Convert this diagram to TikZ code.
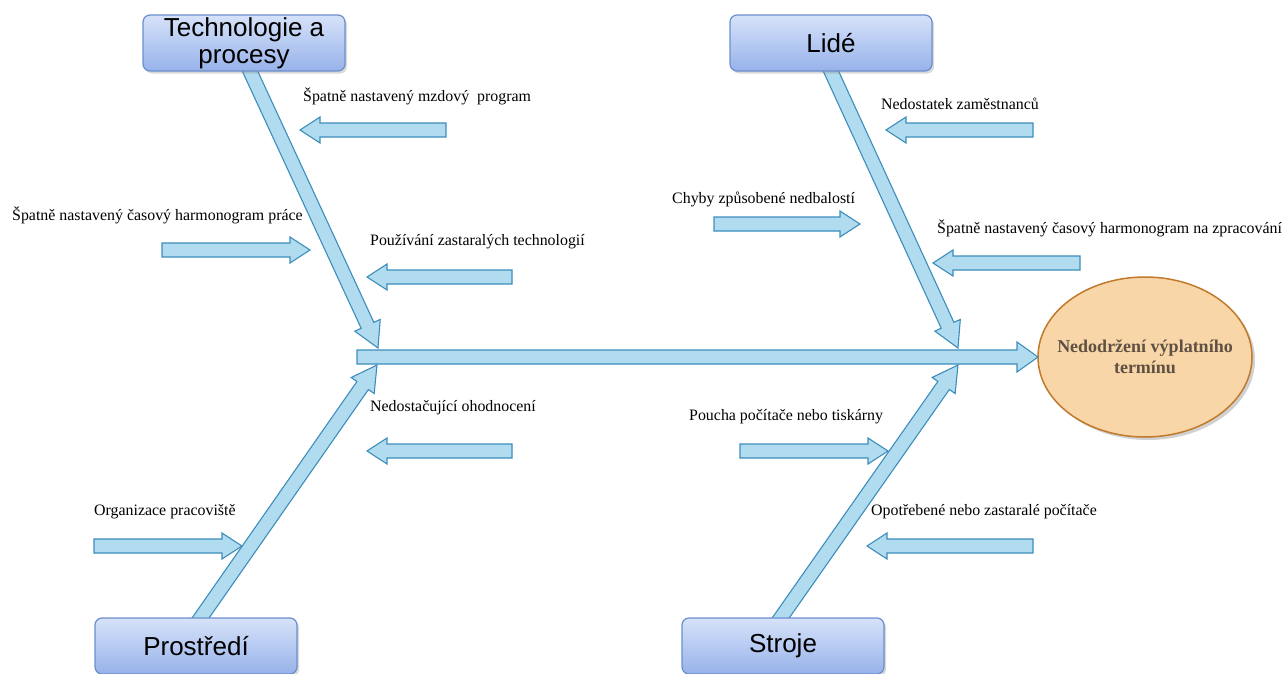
\documentclass[tikz,border=0pt]{standalone}
\usepackage{fontspec}
\setmainfont{Liberation Serif}
\newfontfamily\boxfont{Liberation Sans}
\usetikzlibrary{calc,shadows,shapes.geometric}

\definecolor{bonefill}{HTML}{B1DCF0}
\definecolor{boneline}{HTML}{3D8DBB}
\definecolor{boxtop}{HTML}{D6E2F9}
\definecolor{boxbot}{HTML}{97B2EA}
\definecolor{boxline}{HTML}{6B8FCC}
\definecolor{effectfill}{HTML}{F9D6A8}
\definecolor{effectline}{HTML}{C07A2C}
\definecolor{effecttext}{HTML}{5E5042}

\tikzset{
  bone/.style={fill=bonefill, draw=boneline, line width=1.1pt, line join=miter},
  category/.style={rounded corners=7pt, top color=boxtop, bottom color=boxbot,
    draw=boxline, line width=1.2pt, minimum width=202pt, minimum height=56pt,
    inner sep=0pt, align=center, font=\boxfont\fontsize{26}{27}\selectfont,
    drop shadow={shadow xshift=2pt, shadow yshift=-2.5pt, opacity=0.3, fill=black!50}},
  effect/.style={ellipse, fill=effectfill, draw=effectline, line width=1.5pt,
    minimum width=214pt, minimum height=160pt, inner sep=0pt,
    drop shadow={shadow xshift=3pt, shadow yshift=-3pt, opacity=0.3, fill=black!60}},
  effecttext/.style={inner sep=0pt, align=center, text=effecttext,
    font=\bfseries\fontsize{18}{21}\selectfont},
  cause/.style={anchor=west, inner sep=0pt, font=\fontsize{15.9}{18}\selectfont}
}

% block arrow: tail, tip, shaft half-width, head half-width, head length
\newcommand\blockarrow[5]{%
  \coordinate (hb) at ($(#2)!#5!(#1)$);
  \draw[bone] ($(#1)!#3!90:(#2)$) -- ($(hb)!#3!90:(#2)$) -- ($(hb)!#4!90:(#2)$)
    -- (#2) -- ($(hb)!#4!-90:(#2)$) -- ($(hb)!#3!-90:(#2)$)
    -- ($(#1)!#3!-90:(#2)$) -- cycle;}
\newcommand\causearrow[2]{\blockarrow{#1}{#2}{7pt}{13pt}{20pt}}

\begin{document}
\begin{tikzpicture}[x=1pt, y=-1pt]
\useasboundingbox (0,0) rectangle (1286,673);

% effect
\node[effect] (eff) at (1145,357) {};
\node[effecttext] (efft) at (eff.center) {Nedodržení výplatního\\termínu};

% spine
\coordinate (spL) at (357,357);
\coordinate (spR) at (1038,357);
\blockarrow{spL}{spR}{7pt}{15pt}{21pt}

% category boxes positions
\coordinate (techC) at (244,43);
\coordinate (lideC) at (831,43);
\coordinate (prosC) at (196,646);
\coordinate (strC)  at (783,646);

% bones
\coordinate (b1s) at (237,43);
\coordinate (b1e) at (378,348);
\coordinate (b2s) at (818,43);
\coordinate (b2e) at (958,348);
\coordinate (b3s) at (181,646);
\coordinate (b3e) at (377,365);
\coordinate (b4s) at (761,646);
\coordinate (b4e) at (958,365);
\blockarrow{b1s}{b1e}{7pt}{14pt}{25pt}
\blockarrow{b2s}{b2e}{7pt}{14pt}{25pt}
\blockarrow{b3s}{b3e}{7pt}{14pt}{25pt}
\blockarrow{b4s}{b4e}{7pt}{14pt}{25pt}

\node[category] (tech) at (techC) {Technologie a\\procesy};
\node[category] (lide) at (lideC) {Lidé};
\node[category] (pros) at (prosC) {Prostředí};
\node[category] (str)  at (strC)  {Stroje};

% causes: Technologie a procesy
\node[cause] (c1) at (303,96) {Špatně nastavený mzdový~ program};
\coordinate (c1t) at (446,130); \coordinate (c1h) at (300,130);
\causearrow{c1t}{c1h}
\node[cause] (c2) at (12,215) {Špatně nastavený časový harmonogram práce};
\coordinate (c2t) at (162,250); \coordinate (c2h) at (310,250);
\causearrow{c2t}{c2h}
\node[cause] (c3) at (370,242) {Používání zastaralých technologií};
\coordinate (c3t) at (512,277); \coordinate (c3h) at (367,277);
\causearrow{c3t}{c3h}

% causes: Prostředí
\node[cause] (c4) at (370,408) {Nedostačující ohodnocení};
\coordinate (c4t) at (512,451); \coordinate (c4h) at (367,451);
\causearrow{c4t}{c4h}
\node[cause] (c5) at (94,512) {Organizace pracoviště};
\coordinate (c5t) at (94,546); \coordinate (c5h) at (242,546);
\causearrow{c5t}{c5h}

% causes: Lidé
\node[cause] (c6) at (881,104) {Nedostatek zaměstnanců};
\coordinate (c6t) at (1033,130); \coordinate (c6h) at (886,130);
\causearrow{c6t}{c6h}
\node[cause] (c7) at (672,199) {Chyby způsobené nedbalostí};
\coordinate (c7t) at (714,224); \coordinate (c7h) at (860,224);
\causearrow{c7t}{c7h}
\node[cause] (c8) at (937,228) {Špatně nastavený časový harmonogram na zpracování};
\coordinate (c8t) at (1080,263); \coordinate (c8h) at (933,263);
\causearrow{c8t}{c8h}

% causes: Stroje
\node[cause] (c9) at (689,417) {Poucha počítače nebo tiskárny};
\coordinate (c9t) at (740,451); \coordinate (c9h) at (888,451);
\causearrow{c9t}{c9h}
\node[cause] (c10) at (871,512) {Opotřebené nebo zastaralé počítače};
\coordinate (c10t) at (1033,546); \coordinate (c10h) at (867,546);
\causearrow{c10t}{c10h}
\end{tikzpicture}
\end{document}
